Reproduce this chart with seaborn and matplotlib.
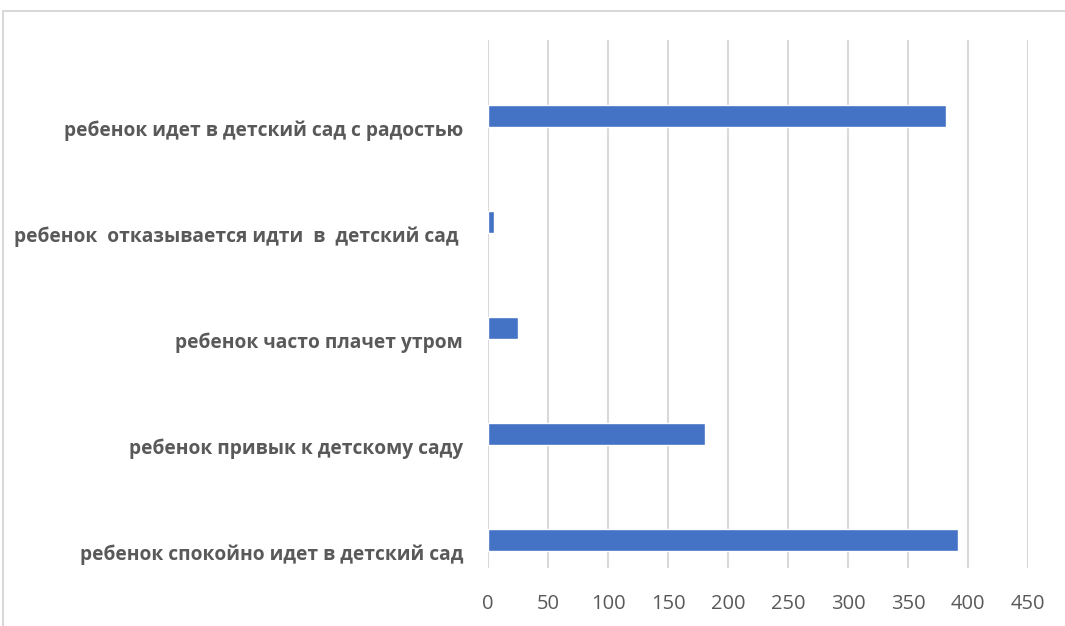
import numpy as np
import pandas as pd
import seaborn as sns
from matplotlib import pyplot as plt
from matplotlib.patches import Rectangle

categories = [
    "ребенок идет в детский сад с радостью",
    "ребенок  отказывается идти  в  детский сад ",
    "ребенок часто плачет утром",
    "ребенок привык к детскому саду",
    "ребенок спокойно идет в детский сад",
]
values = [382, 5, 25, 181, 392]
x_ticks = [0, 50, 100, 150, 200, 250, 300, 350, 400, 450]

BAR = "#4472C4"
GRID = "#D9D9D9"
TEXT = "#595959"

df = pd.DataFrame({"category": categories, "value": values})

sns.set_style("white")
plt.rcParams["font.family"] = ["Open Sans", "DejaVu Sans"]

W, H = 1065, 626
fig = plt.figure(figsize=(W / 100, H / 100), dpi=100)
ax = fig.add_axes([488 / W, 1 - 568 / H, (1028 - 488) / W, (568 - 40) / H])

sns.barplot(data=df, x="value", y="category", order=categories,
            color=BAR, width=0.21, saturation=1, ax=ax, zorder=3)

ax.set_xlim(0, 450)
ax.set_ylim(4.264, -0.717)
ax.set_xticks(x_ticks)
ax.set_xticklabels([str(t) for t in x_ticks], fontsize=14.5, color=TEXT)
ax.set_yticks(np.arange(len(categories)) + 0.12)
ax.set_yticklabels(categories, fontsize=13.8, fontweight="bold", color=TEXT)
ax.tick_params(axis="x", length=0, pad=19)
ax.tick_params(axis="y", length=0, pad=18)
ax.set_xlabel("")
ax.set_ylabel("")
ax.grid(axis="x", color=GRID, linewidth=1.5, zorder=0)
ax.grid(axis="y", visible=False)
for s in ax.spines.values():
    s.set_visible(False)

# chart frame, cut off by the screenshot at right and bottom
fig.patches.append(Rectangle((3 / W, -0.1), 1.2, 1 - 11 / H + 0.1,
                             transform=fig.transFigure, fill=False,
                             edgecolor=GRID, linewidth=1.5))

fig.savefig("out.png", dpi=100)
